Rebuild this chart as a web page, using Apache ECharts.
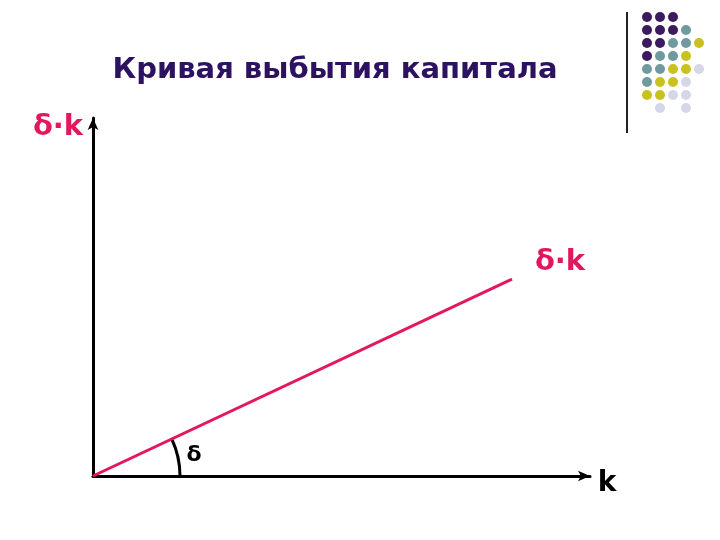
<!DOCTYPE html>
<html>
<head>
<meta charset="utf-8">
<script src="https://cdn.jsdelivr.net/npm/echarts@6/dist/echarts.min.js"></script>
<style>
  html, body { margin: 0; padding: 0; background: #fff; }
  #main { width: 720px; height: 540px; }
</style>
</head>
<body>
<div id="main"></div>
<script>
// depreciation line: from origin to end point (axis units 0..100)
const lineX = [0, 84.3]
const lineY = [0, 55]
// decorative dot grid: [col, row]
const dotsPurple = [[0,0],[1,0],[2,0],[0,1],[1,1],[2,1],[0,2],[1,2],[0,3]]
const dotsTeal = [[3,1],[2,2],[3,2],[1,3],[2,3],[0,4],[1,4],[0,5]]
const dotsYellow = [[4,2],[3,3],[2,4],[3,4],[1,5],[2,5],[0,6],[1,6]]
const dotsLight = [[4,4],[3,5],[2,6],[3,6],[1,7],[3,7]]

const font = 'DejaVu Sans, Verdana, sans-serif'
const pink = '#e3175f'

const chart = echarts.init(document.getElementById('main'))

const dotSeries = (data, color) => ({
  type: 'scatter',
  xAxisIndex: 1,
  yAxisIndex: 1,
  symbolSize: 10,
  itemStyle: { color: color, opacity: 1 },
  silent: true,
  data: data
})

chart.setOption({
  animation: false,
  title: {
    text: 'Кривая выбытия капитала',
    left: 330,
    top: 51,
    textAlign: 'center',
    textStyle: { fontFamily: font, fontWeight: 'bold', fontSize: 29, color: '#2c1260' }
  },
  grid: [
    { left: 93, top: 118, width: 497, height: 358 },
    { left: 640.5, top: 10.5, width: 65, height: 104 }
  ],
  xAxis: [
    {
      type: 'value', min: 0, max: 100,
      axisLine: { show: true, symbol: ['none', 'arrow'], symbolSize: [8, 12], lineStyle: { color: '#000', width: 3 } },
      axisTick: { show: false }, axisLabel: { show: false }, splitLine: { show: false }
    },
    { gridIndex: 1, type: 'value', min: -0.5, max: 4.5, show: false }
  ],
  yAxis: [
    {
      type: 'value', min: 0, max: 100,
      axisLine: { show: true, symbol: ['none', 'arrow'], symbolSize: [8, 12], lineStyle: { color: '#000', width: 3 } },
      axisTick: { show: false }, axisLabel: { show: false }, splitLine: { show: false }
    },
    { gridIndex: 1, type: 'value', min: -0.5, max: 7.5, inverse: true, show: false }
  ],
  series: [
    {
      type: 'line',
      data: lineX.map((x, i) => [x, lineY[i]]),
      symbol: 'none',
      lineStyle: { color: pink, width: 3 },
      silent: true
    },
    dotSeries(dotsPurple, '#3b1a5e'),
    dotSeries(dotsTeal, '#6f9a9e'),
    dotSeries(dotsYellow, '#c9c21e'),
    dotSeries(dotsLight, '#d5d7e8')
  ]
})

const o = chart.convertToPixel({ xAxisIndex: 0, yAxisIndex: 0 }, [0, 0])
const e = chart.convertToPixel({ xAxisIndex: 0, yAxisIndex: 0 }, [lineX[1], lineY[1]])
const ang = Math.atan2(o[1] - e[1], e[0] - o[0])
const r = 87

chart.setOption({
  graphic: [
    { type: 'arc', shape: { cx: o[0], cy: o[1], r: r, startAngle: -ang, endAngle: 0 },
      style: { stroke: '#000', lineWidth: 3, fill: null } },
    { type: 'text', x: 58, y: 127, style: { text: 'δ·k', font: 'bold 29px ' + font, fill: pink, align: 'center', verticalAlign: 'middle' } },
    { type: 'text', x: 560, y: 262, style: { text: 'δ·k', font: 'bold 29px ' + font, fill: pink, align: 'center', verticalAlign: 'middle' } },
    { type: 'text', x: 607, y: 484, style: { text: 'k', font: 'bold 28px ' + font, fill: '#000', align: 'center', verticalAlign: 'middle' } },
    { type: 'text', x: 194, y: 455, style: { text: 'δ', font: 'bold 22px ' + font, fill: '#000', align: 'center', verticalAlign: 'middle' } },
    { type: 'line', shape: { x1: 627, y1: 12, x2: 627, y2: 133 }, style: { stroke: '#222', lineWidth: 2 } }
  ]
})
</script>
</body>
</html>
